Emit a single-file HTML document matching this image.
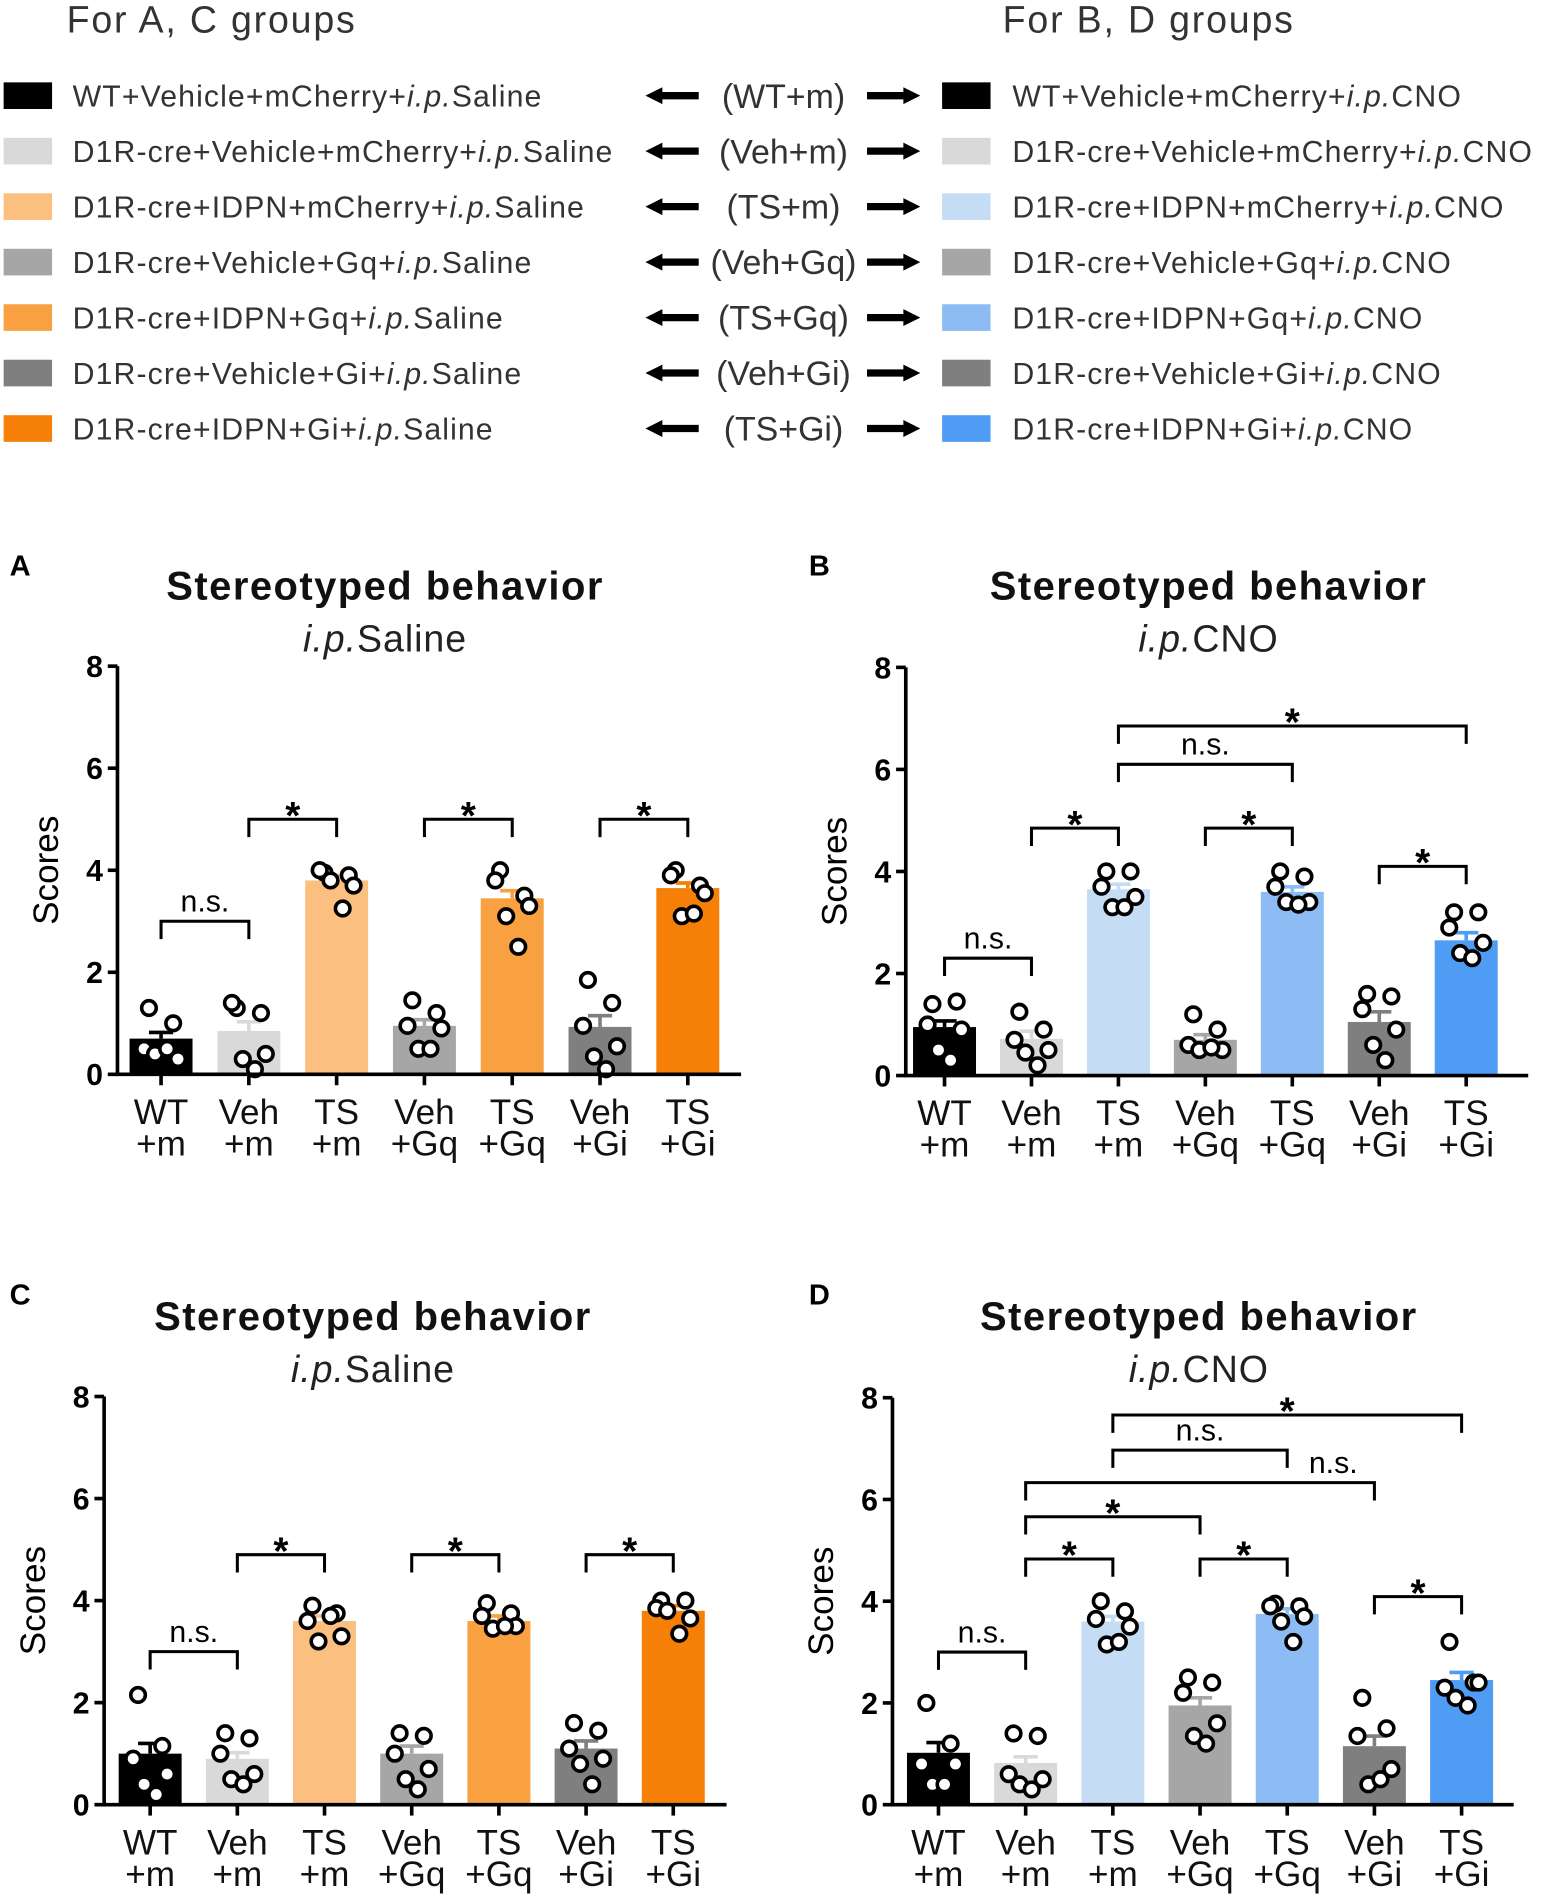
<!DOCTYPE html>
<html><head><meta charset="utf-8"><style>
html,body{margin:0;padding:0;background:#fff;}
svg{display:block;font-family:"Liberation Sans",Arial,sans-serif;}
</style></head><body>
<svg id="fig" width="1550" height="1904" viewBox="0 0 1280 1572" preserveAspectRatio="none" xmlns="http://www.w3.org/2000/svg">
<g id="legend">
<text x="55" y="27" font-size="31" letter-spacing="1.5" fill="#333">For A, C groups</text>
<text x="828" y="27" font-size="31" letter-spacing="1.5" fill="#333">For B, D groups</text>
</g>
</svg>
<script>
const groups = ["WT\n+m","Veh\n+m","TS\n+m","Veh\n+Gq","TS\n+Gq","Veh\n+Gi","TS\n+Gi"];
const abbrev = ["(WT+m)","(Veh+m)","(TS+m)","(Veh+Gq)","(TS+Gq)","(Veh+Gi)","(TS+Gi)"];
const legendLeft = ["WT+Vehicle+mCherry+","D1R-cre+Vehicle+mCherry+","D1R-cre+IDPN+mCherry+","D1R-cre+Vehicle+Gq+","D1R-cre+IDPN+Gq+","D1R-cre+Vehicle+Gi+","D1R-cre+IDPN+Gi+"];
const salineColors = ["#000000","#d9d9d9","#fbbf80","#a6a6a6","#f9a040","#7f7f7f","#f57f07"];
const cnoColors = ["#000000","#d9d9d9","#c5dcf5","#a6a6a6","#8cbcf3","#7f7f7f","#4f9cf5"];
const yTicks = [0,2,4,6,8];

const meansA = [0.7,0.85,3.8,0.95,3.45,0.93,3.65];
const errsA = [0.12,0.18,0.1,0.12,0.15,0.22,0.1];
const pointsA = [[1.3,1.0,0.5,0.3,0.4,0.5],[1.3,1.2,1.4,0.4,0.3,0.1],[3.95,3.9,4.0,3.7,3.8,3.25],[1.45,1.2,0.95,0.9,0.5,0.5],[4.0,3.5,3.8,3.3,3.1,2.5],[1.85,1.4,0.95,0.55,0.35,0.1],[4.0,3.7,3.9,3.55,3.1,3.15]];
const bracketsA = [[0,1,3.0,"n.s."],[1,2,5.0,"*"],[3,4,5.0,"*"],[5,6,5.0,"*"]];

const meansB = [0.95,0.72,3.65,0.7,3.6,1.05,2.65];
const errsB = [0.12,0.15,0.1,0.1,0.1,0.2,0.15];
const pointsB = [[1.4,1.45,1.0,0.9,0.5,0.3],[1.25,0.9,0.7,0.5,0.45,0.2],[4.0,4.0,3.7,3.5,3.3,3.3],[1.2,0.9,0.6,0.5,0.5,0.55],[4.0,3.9,3.7,3.4,3.4,3.35],[1.6,1.55,1.3,0.9,0.6,0.3],[3.2,3.2,2.9,2.6,2.4,2.3]];
const bracketsB = [[0,1,2.3,"n.s."],[1,2,4.85,"*"],[3,4,4.85,"*"],[5,6,4.1,"*"],[2,4,6.1,"n.s."],[2,6,6.85,"*"]];

const meansC = [1.0,0.9,3.6,1.0,3.6,1.1,3.8];
const errsC = [0.2,0.12,0.1,0.15,0.1,0.15,0.1];
const pointsC = [[2.15,1.15,0.9,0.6,0.4,0.2],[1.4,1.3,1.0,0.6,0.5,0.4],[3.9,3.75,3.6,3.3,3.2,3.7],[1.4,1.35,1.0,0.7,0.5,0.3],[3.95,3.75,3.7,3.5,3.45,3.5],[1.6,1.45,1.1,0.9,0.8,0.4],[4.0,4.0,3.85,3.65,3.8,3.35]];
const bracketsC = [[0,1,3.0,"n.s."],[1,2,4.9,"*"],[3,4,4.9,"*"],[5,6,4.9,"*"]];

const meansD = [1.02,0.82,3.6,1.95,3.75,1.15,2.45];
const errsD = [0.2,0.12,0.1,0.15,0.1,0.2,0.15];
const pointsD = [[2.0,1.2,0.8,0.8,0.4,0.4],[1.4,1.35,0.6,0.5,0.4,0.3],[4.0,3.8,3.65,3.5,3.15,3.2],[2.5,2.4,2.2,1.6,1.35,1.2],[3.95,3.9,3.9,3.7,3.6,3.2],[2.1,1.5,1.35,0.7,0.4,0.5],[3.2,2.4,2.3,2.4,2.1,1.95]];
const bracketsD = [[0,1,3.0,"n.s."],[1,2,4.83,"*"],[3,4,4.83,"*"],[5,6,4.09,"*"],[1,3,5.66,"*"],[1,5,6.33,"n.s."],[2,4,6.97,"n.s."],[2,6,7.66,"*"]];

const NS="http://www.w3.org/2000/svg";
const svg=document.getElementById('fig');
function mk(tag,attrs,parent,text){const e=document.createElementNS(NS,tag);for(const k in attrs)e.setAttribute(k,attrs[k]);if(text!==undefined)e.textContent=text;(parent||svg).appendChild(e);return e;}

const lg=document.getElementById('legend');
legendLeft.forEach((t,i)=>{
  const y=79+i*45.8;
  const s1=mk('rect',{x:3,y:y-11,width:40,height:22,fill:salineColors[i]},lg);
  
  
  const t1=mk('text',{x:60,y:y+9,'font-size':25,'letter-spacing':0.9,fill:'#333'},lg);
  
  
  mk('tspan',{},t1,t);mk('tspan',{'font-style':'italic'},t1,'i.p.');mk('tspan',{},t1,'Saline');
  const s2=mk('rect',{x:778,y:y-11,width:40,height:22,fill:cnoColors[i]},lg);
  
  
  const t2=mk('text',{x:836,y:y+9,'font-size':25,'letter-spacing':0.9,fill:'#333'},lg);
  
  
  mk('tspan',{},t2,t);mk('tspan',{'font-style':'italic'},t2,'i.p.');mk('tspan',{},t2,'CNO');
  const ab=mk('text',{x:647,y:y+10,'font-size':28,'text-anchor':'middle',fill:'#333'},lg,abbrev[i]);
  
  
  const a1=mk('path',{d:`M533 ${y} l14 -7 v4 h30 v6 h-30 v4 z`,fill:'#000'},lg);
  
  
  const a2=mk('path',{d:`M760 ${y} l-14 -7 v4 h-30 v6 h30 v4 z`,fill:'#000'},lg);
  
  
});

function panel(cfg){
  const g=mk('g',{});
  
  
  const y=v=>cfg.y0-(cfg.y0-cfg.y8)*v/8;
  const x=i=>cfg.x0+i*cfg.dx;
  const L=mk('text',{x:cfg.lx,y:cfg.ly,'font-size':24,'font-weight':'bold'},g,cfg.letter);
  
  
  const T=mk('text',{x:cfg.tc,y:cfg.ty,'font-size':33,'letter-spacing':1.2,'font-weight':'bold','text-anchor':'middle',fill:'#111'},g,'Stereotyped behavior');
  
  
  const S=mk('text',{x:cfg.tc,y:cfg.ty+43,'font-size':31,'letter-spacing':0.8,'text-anchor':'middle',fill:'#222'},g);
  
  
  mk('tspan',{'font-style':'italic'},S,'i.p.');mk('tspan',{},S,cfg.sub);
  const YL=mk('text',{x:0,y:0,'font-size':29,'text-anchor':'middle',transform:`translate(${cfg.ax-49},${y(4)}) rotate(-90)`},g,'Scores');
  
  
  cfg.means.forEach((m,i)=>{
    const b=mk('rect',{x:x(i)-26,y:y(m),width:52,height:y(0)-y(m),fill:cfg.colors[i]},g);
    
    
    const e=mk('path',{d:`M${x(i)} ${y(m)} V${y(m+cfg.errs[i])} M${x(i)-10} ${y(m+cfg.errs[i])} H${x(i)+10}`,stroke:cfg.colors[i],'stroke-width':3,fill:'none'},g);
    
    
  });
  const offs=[-10,10,-14,14,-5,5];
  cfg.points.forEach((arr,i)=>arr.forEach((v,k)=>{
    const c=mk('circle',{cx:x(i)+offs[k],cy:y(v),r:6,fill:'#fff',stroke:'#000','stroke-width':3},g);
    
    
  }));
  const ax=mk('path',{d:`M${cfg.ax} ${cfg.y8} V${y(0)} H${cfg.xend}`,stroke:'#000','stroke-width':3,fill:'none'},g);
  
  
  yTicks.forEach(t=>{
    mk('path',{d:`M${cfg.ax-8} ${y(t)} H${cfg.ax}`,stroke:'#000','stroke-width':3},g);
    const tl=mk('text',{x:cfg.ax-12,y:y(t)+9,'font-size':25,'font-weight':'bold','text-anchor':'end'},g,t);
    
    
  });
  groups.forEach((gname,i)=>{
    mk('path',{d:`M${x(i)} ${y(0)} V${y(0)+9}`,stroke:'#000','stroke-width':3},g);
    const parts=gname.split('\n');
    const xl=mk('text',{x:x(i),y:y(0)+41,'font-size':29,'text-anchor':'middle',fill:'#111'},g);
    
    
    mk('tspan',{x:x(i)},xl,parts[0]);mk('tspan',{x:x(i),dy:26},xl,parts[1]);
  });
  cfg.brackets.forEach(bk=>{
    const [i,j,v,lab]=bk;
    const yy=y(v), drop=y(v-0.35)-yy;
    const p=mk('path',{d:`M${x(i)} ${yy+drop} V${yy} H${x(j)} V${yy+drop}`,stroke:'#000','stroke-width':2.5,fill:'none'},g);
    
    
    let lx=(x(i)+x(j))/2;
    if(cfg.letter==='D'&&i===1&&j===5) lx=x(5)-34;
    const star=lab==='*';
    const t=mk('text',{x:lx,y:star?yy+8:yy-8,'font-size':star?32:25,'font-weight':star?'bold':'normal','text-anchor':'middle'},g,lab);
    
    
  });
}
panel({letter:'A',lx:8,ly:475,tc:318,ty:495,sub:'Saline',ax:97,y8:550,y0:887,xend:612,x0:133,dx:72.5,means:meansA,errs:errsA,points:pointsA,brackets:bracketsA,colors:salineColors});
panel({letter:'B',lx:668,ly:475,tc:998,ty:495,sub:'CNO',ax:748,y8:551,y0:888,xend:1262,x0:780,dx:71.8,means:meansB,errs:errsB,points:pointsB,brackets:bracketsB,colors:cnoColors});
panel({letter:'C',lx:8,ly:1077,tc:308,ty:1098,sub:'Saline',ax:86,y8:1153,y0:1490,xend:600,x0:124,dx:72,means:meansC,errs:errsC,points:pointsC,brackets:bracketsC,colors:salineColors});
panel({letter:'D',lx:668,ly:1077,tc:990,ty:1098,sub:'CNO',ax:737,y8:1154,y0:1490,xend:1250,x0:775,dx:72,means:meansD,errs:errsD,points:pointsD,brackets:bracketsD,colors:cnoColors});
</script>
</body></html>
